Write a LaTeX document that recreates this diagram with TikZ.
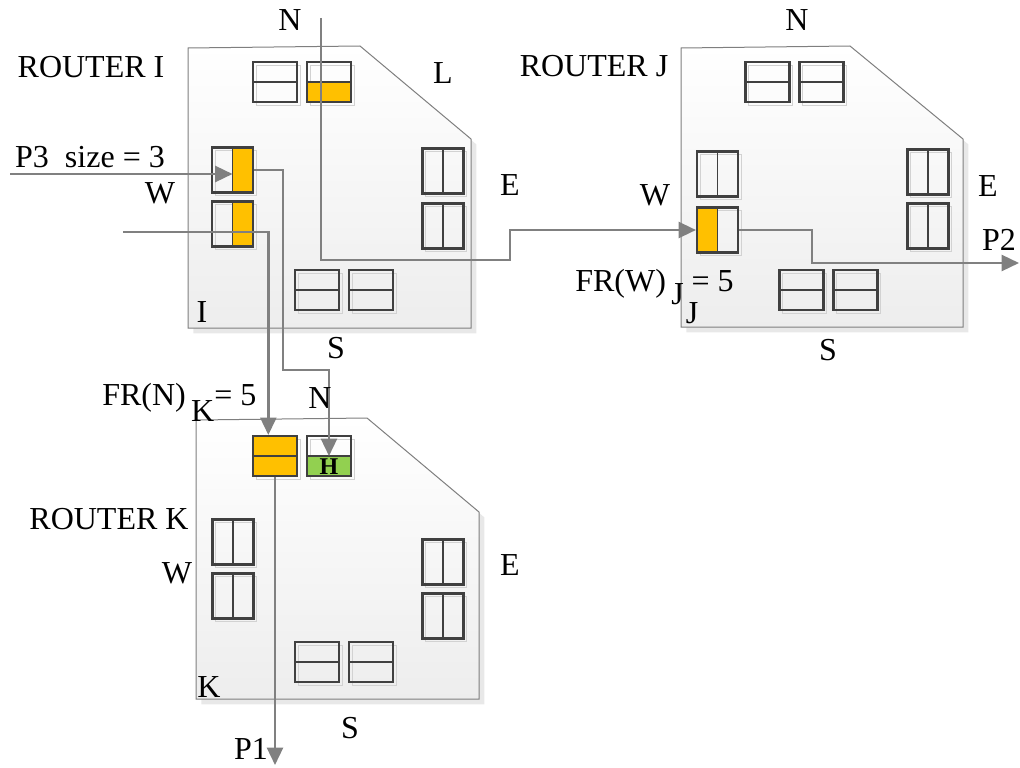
\documentclass[tikz,border=0pt]{standalone}
\usepackage{fontspec}
\setmainfont{Liberation Serif}
\definecolor{bufOrange}{HTML}{FFC000}
\definecolor{bufGreen}{HTML}{92D050}
\definecolor{bufLine}{HTML}{404040}
\definecolor{lineGray}{HTML}{808080}
\definecolor{routerLine}{HTML}{7F7F7F}
\usetikzlibrary{arrows.meta,shadows}

\begin{document}
\begin{tikzpicture}[x=0.75pt, y=-0.75pt,
    router/.style={draw=routerLine, line width=0.75pt, top color=white, bottom color=gray!14,
                   copy shadow={shadow xshift=4pt, shadow yshift=-4pt, fill=gray!18, draw=none, opacity=1}},
    buf/.style={draw=bufLine, line width=1.6pt, inner sep=0pt,
                copy shadow={shadow xshift=2.5pt, shadow yshift=-2.5pt, fill=none, draw=gray!35,
                             line width=0.8pt, opacity=1}},
    hbuf/.style 2 args={buf, minimum width=33pt, minimum height=30pt,
        path picture={
          \path[fill=#1] (path picture bounding box.north west) rectangle (path picture bounding box.east);
          \path[fill=#2] (path picture bounding box.west) rectangle (path picture bounding box.south east);
          \draw[bufLine, line width=1pt] (path picture bounding box.west) -- (path picture bounding box.east);}},
    vbuf/.style 2 args={buf, minimum width=30.75pt, minimum height=33.75pt,
        path picture={
          \path[fill=#1] (path picture bounding box.north west) rectangle (path picture bounding box.south);
          \path[fill=#2] (path picture bounding box.north) rectangle (path picture bounding box.south east);
          \draw[bufLine, line width=1pt] (path picture bounding box.north) -- (path picture bounding box.south);}},
    lbl/.style={font=\fontsize{24}{28}\selectfont, inner sep=0pt},
    arr/.style={->, >={Triangle[length=13pt,width=12pt]}, line width=1.8pt, color=lineGray}
  ]
  \useasboundingbox (0,0) rectangle (1020,767);

  % routers
  \draw[router] (188,48) -- (360,46) -- (471,139) -- (471,328) -- (188,328) -- cycle;
  \draw[router] (681,48) -- (850,46) -- (963,139) -- (963,327) -- (681,327) -- cycle;
  \draw[router] (196,420) -- (367,418) -- (479,512) -- (479,699) -- (196,699) -- cycle;

  % router I buffers
  \node[hbuf={none}{none}] (iN1) at (275,82) {};
  \node[hbuf={none}{bufOrange}] (iN2) at (329,82) {};
  \node[vbuf={none}{bufOrange}] (iW1) at (232.5,170) {};
  \node[vbuf={none}{bufOrange}] (iW2) at (232.5,224) {};
  \node[vbuf={none}{none}] (iE1) at (443,171) {};
  \node[vbuf={none}{none}] (iE2) at (443,226) {};
  \node[hbuf={none}{none}] (iS1) at (317,290) {};
  \node[hbuf={none}{none}] (iS2) at (371,290) {};

  % router J buffers
  \node[hbuf={none}{none}] (jN1) at (767.5,82) {};
  \node[hbuf={none}{none}] (jN2) at (821.5,82) {};
  \node[vbuf={none}{none}] (jW1) at (717.5,174) {};
  \node[vbuf={bufOrange}{none}] (jW2) at (717.5,230) {};
  \node[vbuf={none}{none}] (jE1) at (928,172) {};
  \node[vbuf={none}{none}] (jE2) at (928,226) {};
  \node[hbuf={none}{none}] (jS1) at (801.5,290) {};
  \node[hbuf={none}{none}] (jS2) at (855.5,290) {};

  % router K buffers
  \node[hbuf={bufOrange}{bufOrange}] (kN1) at (275,456) {};
  \node[hbuf={none}{bufGreen}] (kN2) at (329,456) {};
  \node[font=\fontsize{18}{20}\selectfont\bfseries, inner sep=0pt] (kH) at (329,467) {H};
  \node[vbuf={none}{none}] (kW1) at (233,542) {};
  \node[vbuf={none}{none}] (kW2) at (233,596) {};
  \node[vbuf={none}{none}] (kE1) at (443,562) {};
  \node[vbuf={none}{none}] (kE2) at (443,616) {};
  \node[hbuf={none}{none}] (kS1) at (317,662) {};
  \node[hbuf={none}{none}] (kS2) at (371,662) {};

  % packet paths
  \coordinate (nIn) at (321,18);
  \coordinate (iOut) at (510,260);
  \draw[arr] (nIn) |- (iOut) |- (jW2.west);
  \coordinate (p3In) at (10,174);
  \draw[arr] (p3In) -- (p3In -| iW1.center);
  \coordinate (iTurn) at (283,370);
  \draw[arr] (iW1.east) -| (iTurn) -| (kN2.center);
  \coordinate (w2In) at (123,232);
  \draw[arr] (w2In) -| ([xshift=-5pt]kN1.north);
  \coordinate (p1Out) at (273,765);
  \draw[arr] (kN1.south) -- (kN1.south |- p1Out);
  \coordinate (jTurn) at (812,263);
  \coordinate (p2Out) at (1019,263);
  \draw[arr] (jW2.east) -| (jTurn) -- (p2Out);

  % labels, router I
  \node[lbl] (iName) at (91,67) {ROUTER I};
  \node[lbl] (iNlbl) at (290,20) {N};
  \node[lbl] (iLlbl) at (443,73) {L};
  \node[lbl] (p3lbl) at (90,157) {P3\ \ size = 3};
  \node[lbl] (iWlbl) at (160,193) {W};
  \node[lbl] (iElbl) at (510,185) {E};
  \node[lbl] (iIlbl) at (202,312) {I};
  \node[lbl] (iSlbl) at (336,348) {S};

  % labels, router J
  \node[lbl] (jName) at (594,66) {ROUTER J};
  \node[lbl] (jNlbl) at (797,20) {N};
  \node[lbl] (jWlbl) at (655,195) {W};
  \node[lbl] (jElbl) at (988,186) {E};
  \node[lbl] (p2lbl) at (999,240) {P2};
  \node[lbl, anchor=base west] (frW) at (575,291) {FR(W)\,\raisebox{-10pt}{J}\ = 5};
  \node[lbl] (jJlbl) at (692,313) {J};
  \node[lbl] (jSlbl) at (828,350) {S};

  % labels, router K
  \node[lbl, anchor=base west] (frN) at (102,405) {FR(N)\,\raisebox{-12pt}{K}= 5};
  \node[lbl] (kNlbl) at (320,398) {N};
  \node[lbl] (kName) at (109,519) {ROUTER K};
  \node[lbl] (kWlbl) at (177,573) {W};
  \node[lbl] (kElbl) at (510,565) {E};
  \node[lbl] (kKlbl) at (209,687) {K};
  \node[lbl] (kSlbl) at (350,728) {S};
  \node[lbl] (p1lbl) at (251,749) {P1};
\end{tikzpicture}
\end{document}
